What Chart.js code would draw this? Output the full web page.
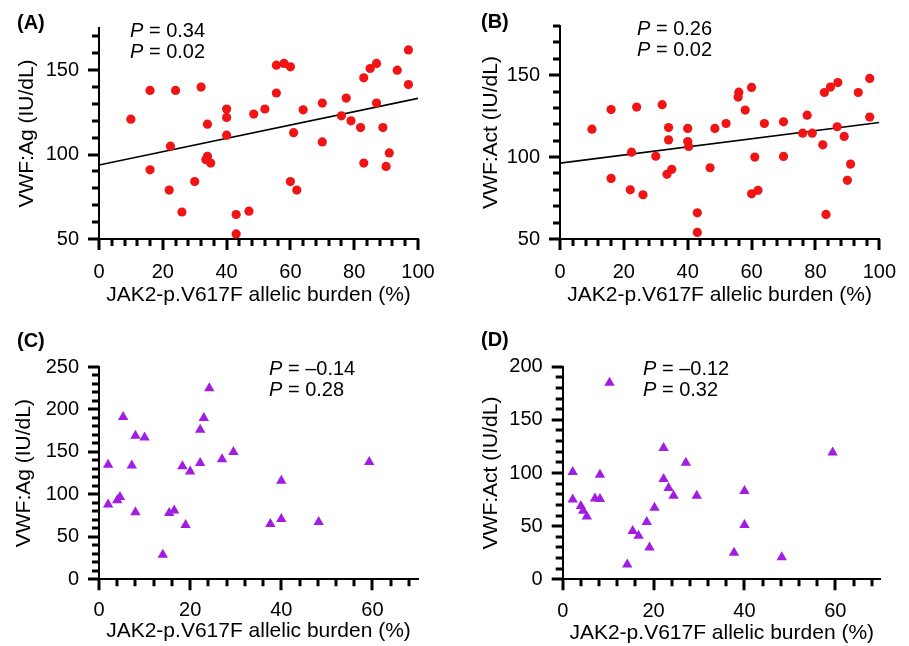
<!DOCTYPE html>
<html>
<head>
<meta charset="utf-8">
<script src="https://cdn.jsdelivr.net/npm/chart.js@4.4.1/dist/chart.umd.min.js"></script>
<style>
  body { margin: 0; background: #fff; }
  #fig { position: relative; width: 909px; height: 646px; font-family: 'Liberation Sans', Arial, sans-serif; color: #000; }
  #fig canvas { position: absolute; }
  .lbl { position: absolute; font-weight: bold; font-size: 20px; line-height: 20px; }
  .rho { position: absolute; font-size: 20px; line-height: 20.5px; white-space: nowrap; }
</style>
</head>
<body>
<div id="fig">
  <canvas id="chartA" width="450" height="320" style="left:0;top:0"></canvas>
  <canvas id="chartB" width="459" height="320" style="left:450px;top:0"></canvas>
  <canvas id="chartC" width="450" height="326" style="left:0;top:320px"></canvas>
  <canvas id="chartD" width="459" height="326" style="left:450px;top:320px"></canvas>

  <div class="lbl" style="left:17px;top:12px">(A)</div>
  <div class="lbl" style="left:481px;top:11px">(B)</div>
  <div class="lbl" style="left:17px;top:330px">(C)</div>
  <div class="lbl" style="left:481px;top:329px">(D)</div>

  <div class="rho" style="left:130px;top:20px"><i>P</i> = 0.34<br><i>P</i> = 0.02</div>
  <div class="rho" style="left:637px;top:18px"><i>P</i> = 0.26<br><i>P</i> = 0.02</div>
  <div class="rho" style="left:269px;top:358px"><i>P</i> = –0.14<br><i>P</i> = 0.28</div>
  <div class="rho" style="left:643px;top:358px"><i>P</i> = –0.12<br><i>P</i> = 0.32</div>
</div>
<script>
// panel A: VWF:Ag vs allelic burden
const burdenA = [10, 16, 16, 22.4, 22, 24, 26, 30, 32, 34, 34, 33.5, 35, 40, 40, 40, 43, 43, 47, 48.5,
  52, 55.6, 55.6, 58, 60, 60, 61, 62, 64, 70, 70, 76, 77.5, 79, 82, 83, 83, 85, 87, 87, 89, 90, 91, 93.5, 97, 97];
const vwfAgA = [121, 138, 91, 105, 79, 138, 66, 84, 140, 118, 99, 97, 95, 127, 122, 111.5, 53, 64.5, 66.5, 124,
  127, 136.5, 153, 154, 152, 84, 113, 79, 126.5, 130.5, 107.5, 123, 133.5, 120, 116, 145.5, 95, 151, 154, 130.5, 116, 93, 101, 150, 141.5, 162];

// panel B: VWF:Act vs allelic burden
const burdenB = [10, 16, 16, 22.4, 22, 24, 26, 30, 32, 34, 34, 33.5, 35, 40, 40, 40.3, 43, 43, 47, 48.5,
  52, 55.8, 56, 58, 60, 60, 61, 62, 64, 70, 70, 76, 77.4, 79, 82.3, 82.8, 83.3, 84.7, 87, 86.8, 89, 90, 91, 93.4, 97, 97];
const vwfActB = [117, 129, 87, 103, 80, 130.5, 77, 100.5, 132, 118, 110.5, 89.5, 92.5, 117.5, 109.5, 106.5, 66, 54, 93.5, 117.5,
  120.5, 136.6, 139.6, 128.7, 142.5, 77.6, 100, 79.7, 120.5, 121.5, 100.4, 114.6, 125.6, 114.6, 107.5, 139.4, 65, 142.7, 145.5, 118.5, 112.6, 85.8, 95.7, 139.4, 124.4, 148];

// panel C: VWF:Ag, second cohort
const burdenC = [2, 2, 4, 4.6, 5.3, 7.2, 8, 8, 10, 14, 15.4, 16.5, 18.3, 19, 20, 22.2, 22.2, 23, 24.2, 27, 29.5, 37.6, 40, 40, 48.2, 59.3];
const vwfAgC = [135, 88, 93, 97, 191, 134, 169, 79, 167, 29, 78, 81, 133, 64, 127, 176, 137, 190, 225, 141.5, 150, 65, 116, 71, 67.6, 138];

// panel D: VWF:Act, second cohort
const burdenD = [2.2, 2.2, 4, 4.5, 5.3, 7.1, 8.2, 8.2, 10.3, 14.2, 15.4, 16.7, 18.5, 19.1, 20.2, 22.2, 22.2, 23.3, 24.4, 27.1, 29.5, 37.7, 40, 40, 48.2, 59.4];
const vwfActD = [101, 75, 69, 64.5, 59, 76, 75.5, 98.4, 185, 14, 45.5, 41, 54, 30, 67.4, 123.5, 94.4, 86, 78.7, 109.7, 78.7, 25, 83, 51, 20.7, 119.4];

// regression lines, ends
const fitX = [0, 100];
const fitA = [93.8, 133.3];
const fitB = [96.3, 121.1];

const xTitle = 'JAK2-p.V617F allelic burden (%)';

// tick spacing (labelled / unlabelled) and tick mark lengths
const X_MAJOR = 20, X_MINOR = 4;
const Y_MAJOR = 50, Y_MINOR = 10;
const TICK_LONG = 11, TICK_SHORT = 7;

Chart.defaults.font.family = "'Liberation Sans', Arial, sans-serif";
Chart.defaults.color = '#000';

// all tick marks drawn here: long ones at labelled values, short ones between
function tickMarks() {
  return {
    id: 'tickMarks',
    afterDraw(chart) {
      const ctx = chart.ctx;
      const a = chart.chartArea;
      const xs = chart.scales.x, ys = chart.scales.y;
      ctx.save();
      ctx.strokeStyle = '#000';
      ctx.lineWidth = 3;
      ctx.beginPath();
      for (let v = Math.ceil(xs.min / X_MINOR) * X_MINOR; v <= xs.max; v += X_MINOR) {
        const len = v % X_MAJOR === 0 ? TICK_LONG : TICK_SHORT;
        const px = Math.round(xs.getPixelForValue(v));
        ctx.moveTo(px, a.bottom);
        ctx.lineTo(px, a.bottom + len);
      }
      for (let v = Math.ceil(ys.min / Y_MINOR) * Y_MINOR; v <= ys.max; v += Y_MINOR) {
        const len = v % Y_MAJOR === 0 ? TICK_LONG : TICK_SHORT;
        const py = Math.round(ys.getPixelForValue(v));
        ctx.moveTo(a.left, py);
        ctx.lineTo(a.left - len, py);
      }
      ctx.stroke();
      ctx.restore();
    }
  };
}

function panel(id, xs, ys, o) {
  const datasets = [{
    data: xs.map((x, i) => ({ x, y: ys[i] })),
    pointStyle: o.marker,
    pointRadius: o.r,
    backgroundColor: o.color,
    borderWidth: 0
  }];
  if (o.fit) {
    datasets.push({
      type: 'line',
      data: fitX.map((x, i) => ({ x, y: o.fit[i] })),
      borderColor: '#000',
      borderWidth: 1.6,
      pointRadius: 0
    });
  }
  new Chart(document.getElementById(id), {
    type: 'scatter',
    data: { datasets },
    options: {
      responsive: false,
      animation: false,
      layout: { padding: { left: 0, right: o.right, top: o.top, bottom: 0 } },
      plugins: {
        legend: { display: false },
        tooltip: { enabled: false }
      },
      scales: {
        x: {
          type: 'linear', min: 0, max: o.xMax,
          afterFit: s => { s.height = o.xH; },
          border: { color: '#000', width: 2 },
          grid: { display: false },
          ticks: { stepSize: X_MAJOR, includeBounds: false, font: { size: 20 }, padding: o.xTickPad, maxRotation: 0 },
          title: { display: true, text: xTitle, font: { size: 21 }, padding: { top: 0, bottom: o.xTitlePad } }
        },
        y: {
          type: 'linear', min: o.yMin, max: o.yMax,
          afterFit: s => { s.width = o.yW; },
          border: { color: '#000', width: 2 },
          grid: { display: false },
          ticks: { stepSize: Y_MAJOR, includeBounds: false, font: { size: 20 }, padding: 12 },
          title: { display: true, text: o.yTitle, font: { size: 21 }, padding: { top: o.yTitlePad, bottom: 0 } }
        }
      }
    },
    plugins: [tickMarks()]
  });
}

const dot = { marker: 'circle', r: 4.6, color: '#f01414' };
const tri = { marker: 'triangle', r: 6, color: '#a21de2' };

panel('chartA', burdenA, vwfAgA, { ...dot, fit: fitA, xMax: 100, yMin: 50, yMax: 175, yTitle: 'VWF:Ag (IU/dL)',
  yW: 99, right: 32, top: 28, xH: 81, xTickPad: 13, xTitlePad: 12, yTitlePad: 15 });
panel('chartB', burdenB, vwfActB, { ...dot, fit: fitB, xMax: 100, yMin: 50, yMax: 180, yTitle: 'VWF:Act (IU/dL)',
  yW: 110, right: 29, top: 26, xH: 81, xTickPad: 13, xTitlePad: 12, yTitlePad: 29 });
panel('chartC', burdenC, vwfAgC, { ...tri, xMax: 70, yMin: 0, yMax: 250, yTitle: 'VWF:Ag (IU/dL)',
  yW: 99, right: 32, top: 47, xH: 66.7, xTickPad: 11, xTitlePad: 2, yTitlePad: 12 });
panel('chartD', burdenD, vwfActD, { ...tri, xMax: 70, yMin: 0, yMax: 200, yTitle: 'VWF:Act (IU/dL)',
  yW: 112.7, right: 28.2, top: 46.7, xH: 66.7, xTickPad: 12, xTitlePad: 0.5, yTitlePad: 29 });
</script>
</body>
</html>
